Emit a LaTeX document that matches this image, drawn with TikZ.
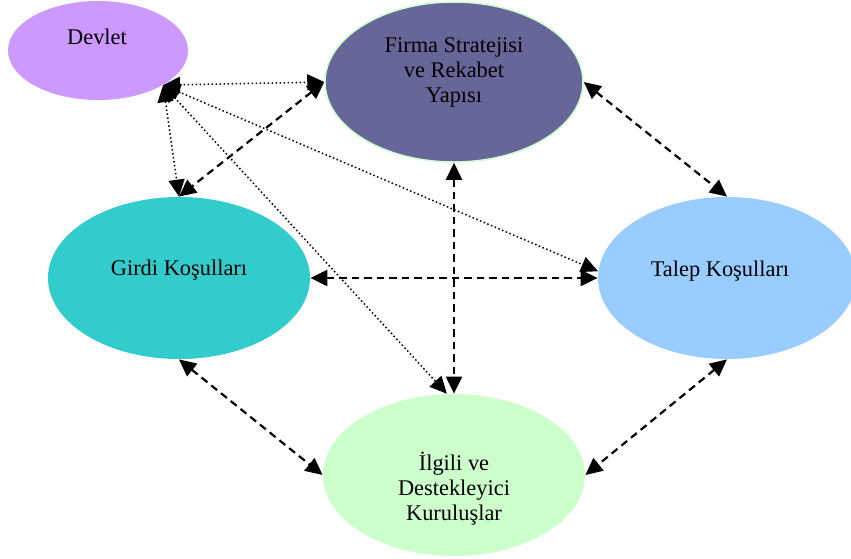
\documentclass[tikz,border=0pt]{standalone}
\usepackage{fontspec}
\setmainfont{Liberation Serif}
\usetikzlibrary{shapes.geometric,arrows.meta}

\definecolor{devletfill}{HTML}{CC99FF}
\definecolor{firmafill}{HTML}{666699}
\definecolor{girdifill}{HTML}{33CCCC}
\definecolor{talepfill}{HTML}{99CCFF}
\definecolor{ilgilifill}{HTML}{CCFFCC}

\begin{document}
\begin{tikzpicture}[x=0.5pt,y=-0.5pt,
	blob/.style={ellipse,inner sep=0pt},
	lbl/.style={font=\fontsize{11.2}{12.5}\selectfont,align=center,inner sep=0pt},
	>={Triangle[length=8.5pt,width=8pt]},
	link/.style={<->,line width=1.1pt,dash pattern=on 3.75pt off 2.5pt},
	govlink/.style={<->,line width=0.75pt,dash pattern=on 0.75pt off 1.25pt}]
\useasboundingbox (0,0) rectangle (851,558);

\node[blob,fill=devletfill,minimum width=90pt,minimum height=49.5pt] (devlet) at (98,50.5) {};
\node[blob,fill=firmafill,draw=ilgilifill,line width=0.75pt,minimum width=129pt,minimum height=80pt] (firma) at (454,82) {};
\node[blob,fill=girdifill,minimum width=131pt,minimum height=81pt] (girdi) at (179,278) {};
\node[blob,fill=talepfill,minimum width=129pt,minimum height=81pt] (talep) at (727,278) {};
\node[blob,fill=ilgilifill,minimum width=131pt,minimum height=81pt] (ilgili) at (454,475) {};

\node[lbl,anchor=base] (devlet-t) at (97,44) {Devlet};
\node[lbl,anchor=north] (firma-t) at (454,37.5) {Firma Stratejisi\\ve Rekabet\\Yapısı};
\node[lbl,anchor=base] (girdi-t) at (179,275) {Girdi Koşulları};
\node[lbl,anchor=base] (talep-t) at (720,276) {Talep Koşulları};
\node[lbl,anchor=north] (ilgili-t) at (454,452) {İlgili ve\\Destekleyici\\Kuruluşlar};

\foreach \a/\b in {firma.west/girdi.north, firma.east/talep.north, firma.south/ilgili.north,
	girdi.east/talep.west, girdi.south/ilgili.west, talep.south/ilgili.east} {
	\draw[link] (\a) -- (\b);
}

\coordinate (dv) at (devlet.-28);
\foreach \b in {firma.west, girdi.north, talep.177, ilgili.95} {
	\draw[govlink] (dv) -- (\b);
}
\end{tikzpicture}
\end{document}
